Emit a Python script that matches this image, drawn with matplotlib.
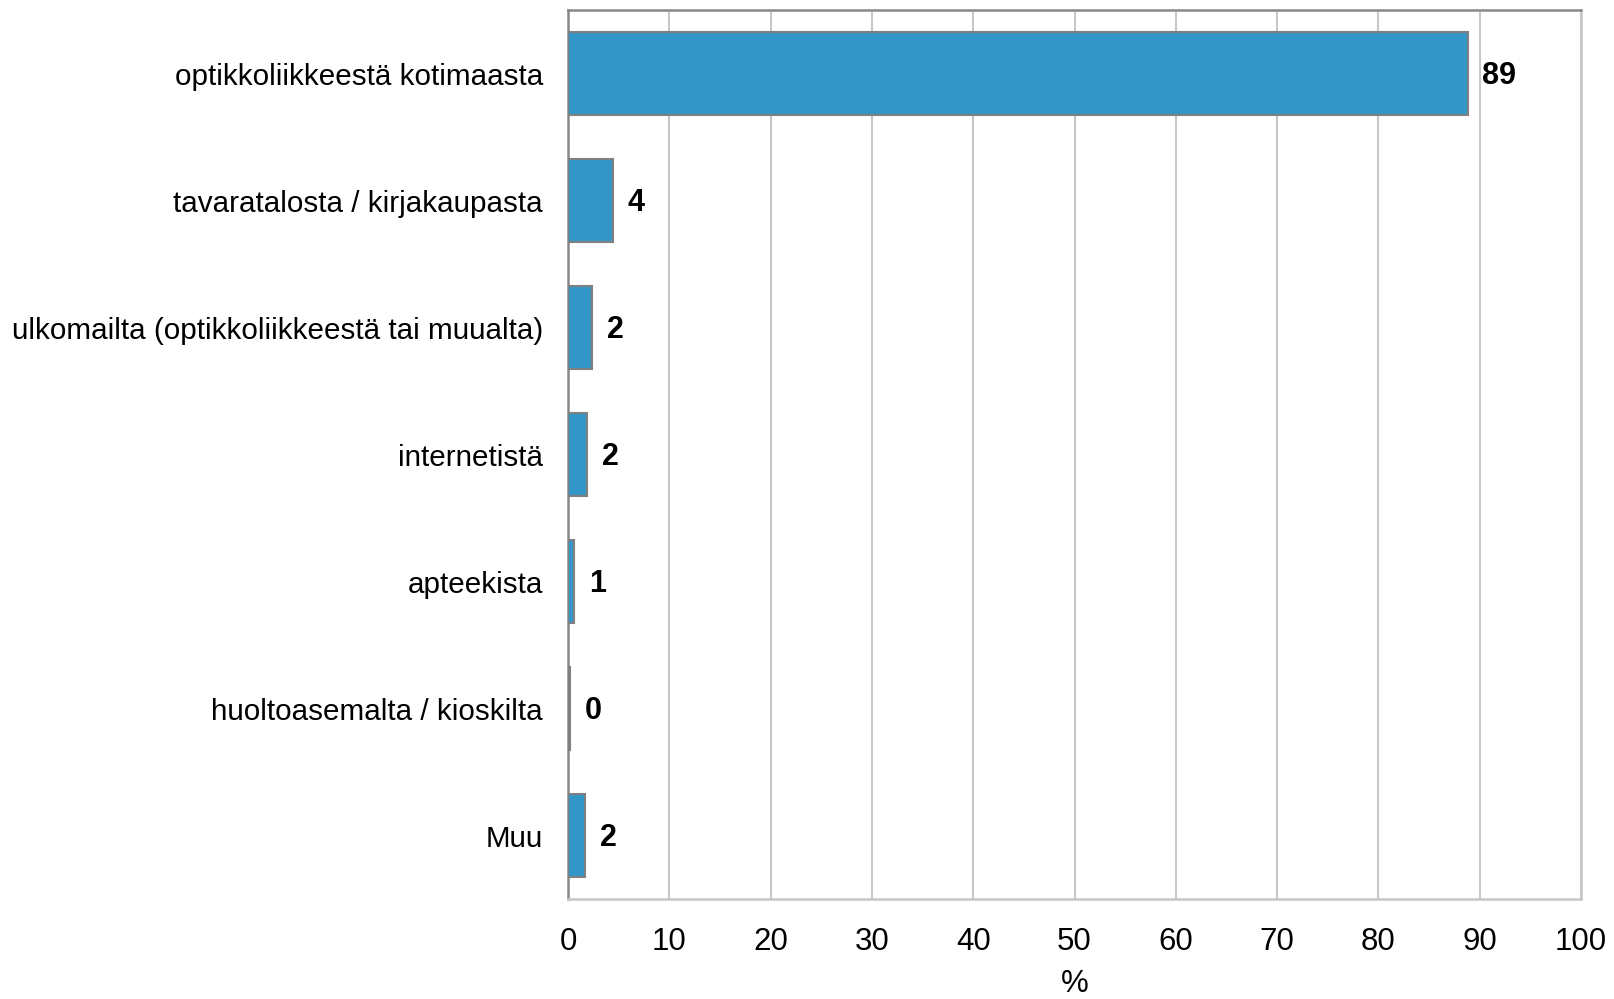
import matplotlib
matplotlib.use("Agg")
import matplotlib.pyplot as plt

categories = [
    "optikkoliikkeestä kotimaasta",
    "tavaratalosta / kirjakaupasta",
    "ulkomailta (optikkoliikkeestä tai muualta)",
    "internetistä",
    "apteekista",
    "huoltoasemalta / kioskilta",
    "Muu",
]
values = [88.8, 4.4, 2.4, 1.9, 0.6, 0.2, 1.7]
xticks = [0, 10, 20, 30, 40, 50, 60, 70, 80, 90, 100]

plt.rcParams["font.family"] = ["Liberation Sans", "DejaVu Sans"]

fig = plt.figure(figsize=(16.14, 9.99), dpi=100)
ax = fig.add_axes([568 / 1614, 1 - 899 / 999, (1581 - 568) / 1614, (899 - 10) / 999])

ypos = list(range(len(categories)))
ax.barh(ypos, values, height=0.66, color="#3396C8", edgecolor="#808080",
        linewidth=1.5, zorder=3)

for y, v in zip(ypos, values):
    ax.annotate(f"{v:.0f}", (v, y), xytext=(10.5, -2), textcoords="offset points",
                ha="left", va="center", fontsize=22, fontweight="bold",
                color="black")

ax.set_xlim(0, 100)
ax.set_ylim(len(categories) - 0.5, -0.5)
ax.set_xticks(xticks)
ax.set_xticklabels([str(t) for t in xticks], fontsize=22.5)
ax.set_yticks(ypos)
ax.set_yticklabels(categories, fontsize=21.3)
ax.tick_params(axis="y", length=0, pad=18)
ax.tick_params(axis="x", length=0, pad=20)
ax.set_xlabel("%", fontsize=22.5, labelpad=9)

ax.grid(axis="x", color="#c8c8c8", linewidth=1.5, zorder=0)
ax.set_axisbelow(True)

for side in ("left", "top"):
    ax.spines[side].set_color("#888888")
    ax.spines[side].set_linewidth(1.8)
for side in ("right", "bottom"):
    ax.spines[side].set_color("#c8c8c8")
    ax.spines[side].set_linewidth(1.8)

fig.savefig("out.png", dpi=100, facecolor="white")
